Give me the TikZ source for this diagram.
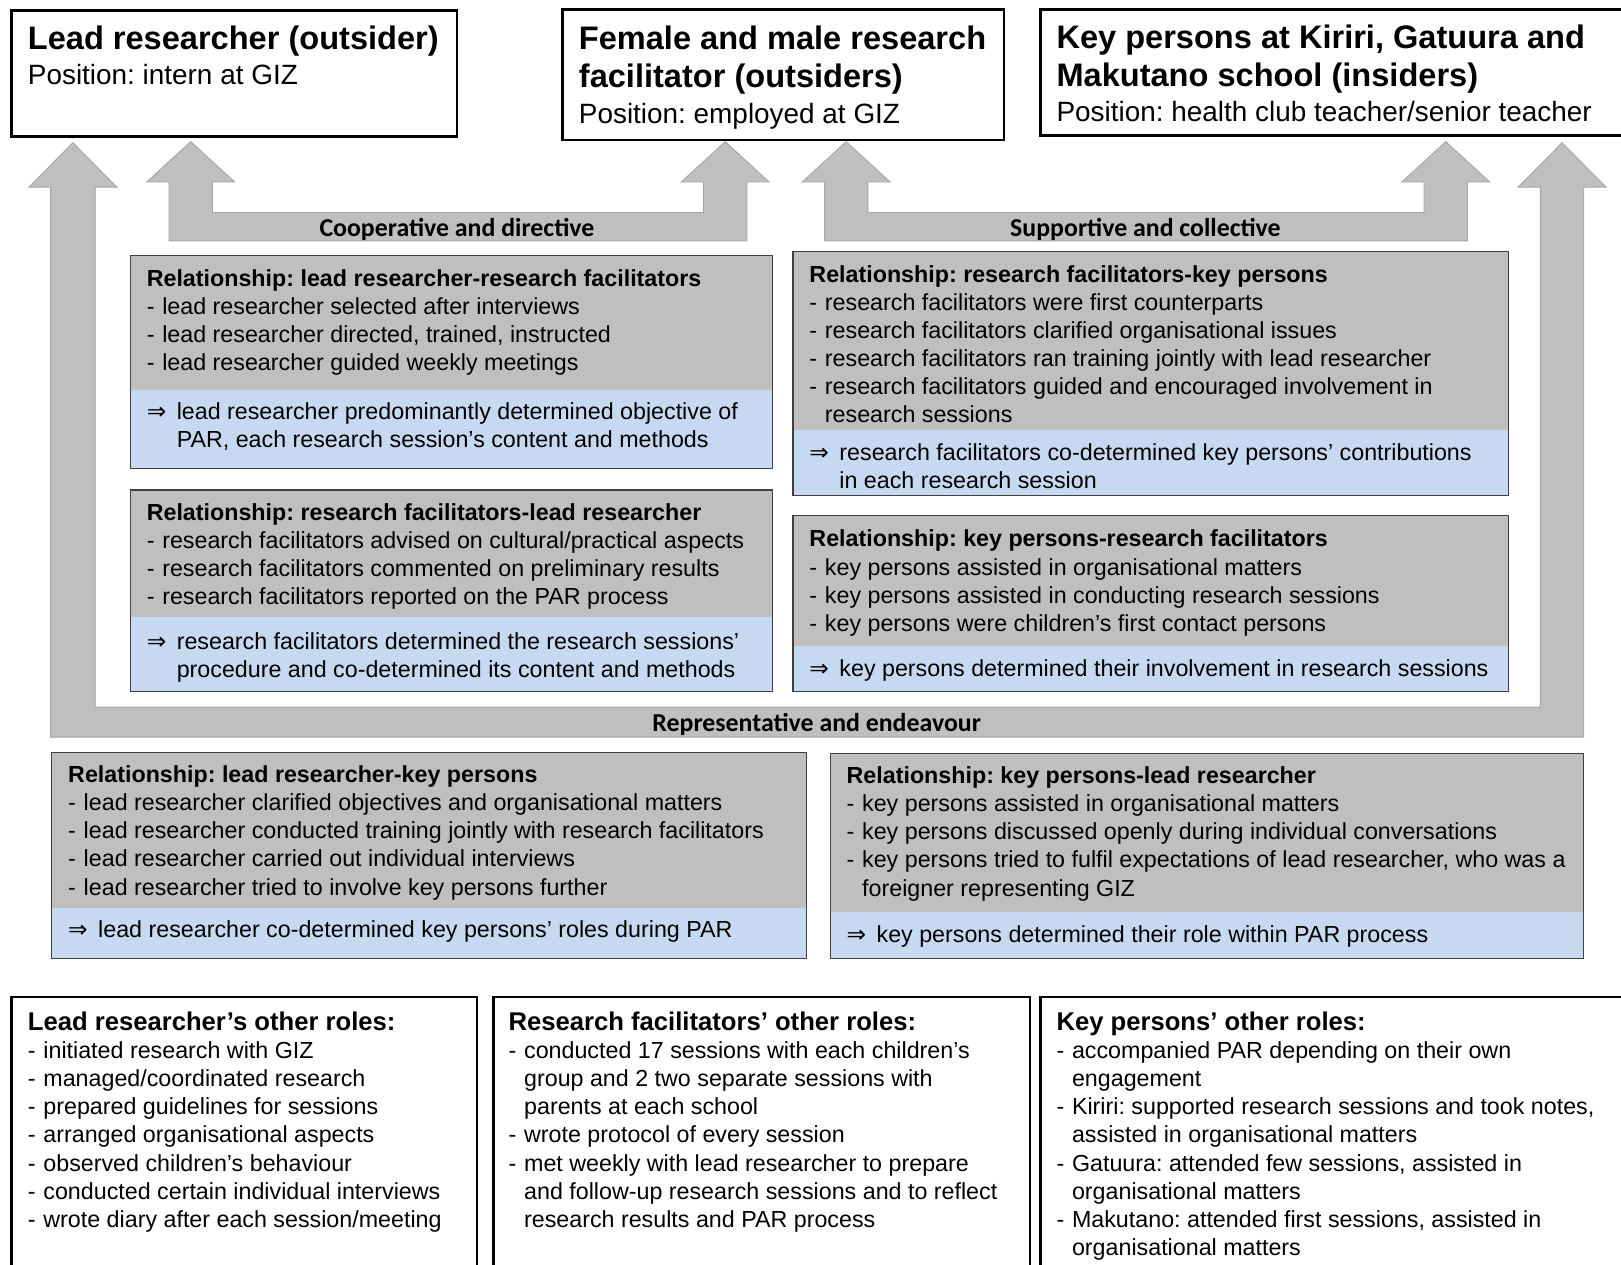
\documentclass[tikz,border=0pt]{standalone}
\usepackage{fontspec}
\setmainfont{Liberation Sans}
\newfontfamily\bandfont{Carlito}
\newfontfamily\symbfont{DejaVu Sans}

\definecolor{bandgray}{HTML}{BFBFBF}
\definecolor{bandedge}{HTML}{A5A5A5}
\definecolor{relgray}{HTML}{BFBFBF}
\definecolor{relblue}{HTML}{C6D9F1}
\definecolor{reledge}{HTML}{404040}

% font sizes (1 unit = 1pt)
\newcommand\titlesize{\fontsize{31.5}{37}\selectfont\bfseries}
\newcommand\possize{\fontsize{27}{34}\selectfont}
\newcommand\bodysize{\fontsize{22.5}{27.2}\selectfont}
\newcommand\headsize{\fontsize{24.8}{29}\selectfont\bfseries}

% list helpers
\newcommand\itm{\makebox[15pt][l]{-}}
\newcommand\cont{\hspace*{15pt}}
\newcommand\res{\makebox[29pt][l]{{\symbfont ⇒}}}
\newcommand\rescont{\hspace*{29pt}}
\newcommand\linesblock[1]{\begin{tabular}[t]{@{}l@{}}#1\end{tabular}}

% relationship box: grey upper part, blue result part
\newcommand\drawrelbox[5]{%
  \fill[relgray] (#1,#2) rectangle (#3,#4);
  \fill[relblue] (#1,#4) rectangle (#3,#5);
  \draw[reledge, line width=1.2pt] (#1,#2) rectangle (#3,#5);}

\frenchspacing

\begin{document}
\frenchspacing
\begin{tikzpicture}[x=1pt,y=-1pt,
  txt/.style={anchor=base west, inner sep=0pt, outer sep=0pt},
  bandlabel/.style={anchor=base, inner sep=0pt, font=\bandfont\bfseries\fontsize{25}{30}\selectfont},
  actorbox/.style={draw=black, line width=2.5pt, fill=white, anchor=north west, inner sep=0pt},
  band/.style={fill=bandgray, draw=bandedge, line width=0.8pt, line join=miter}]

\clip (0,0) rectangle (1568,1223);
\fill[white] (0,0) rectangle (1568,1223);

% ---------- actor boxes ----------
\node[actorbox, minimum width=431pt, minimum height=122pt] (lead) at (10,9) {};
\node[actorbox, minimum width=427pt, minimum height=126pt] (facil) at (543,8) {};
\node[actorbox, minimum width=580pt, minimum height=122pt] (keyp) at (1005,8) {};

\node[txt] (leadT) at (27,48) {\titlesize\linesblock{Lead researcher (outsider)}};
\node[txt] (leadP) at (27,82) {\possize Position: intern at GIZ};

\node[txt] (facilT) at (560,48) {\titlesize\linesblock{Female and male research\\facilitator (outsiders)}};
\node[txt] (facilP) at (560,119) {\possize Position: employed at GIZ};

\node[txt] (keypT) at (1022,47) {\titlesize\linesblock{Key persons at Kiriri, Gatuura and\\Makutano school (insiders)}};
\node[txt] (keypP) at (1022,118) {\possize Position: health club teacher/senior teacher};

% ---------- block arrows ----------
% lead researcher <-> research facilitators
\path[band] (184.5,137) -- (227,176) -- (205.5,176) -- (205.5,205.5) -- (680.5,205.5)
  -- (680.5,176) -- (659,176) -- (701.5,137) -- (744,176) -- (722.5,176) -- (722.5,233)
  -- (163.5,233) -- (163.5,176) -- (142,176) -- cycle;
% research facilitators <-> key persons
\path[band] (818.5,137) -- (861,176) -- (839.5,176) -- (839.5,205.5) -- (1377.5,205.5)
  -- (1377.5,176) -- (1356,176) -- (1398.5,137) -- (1441,176) -- (1419.5,176) -- (1419.5,233)
  -- (797.5,233) -- (797.5,176) -- (776,176) -- cycle;
% lead researcher <-> key persons
\path[band] (70.5,138) -- (113,181) -- (92,181) -- (92,684) -- (1490,684)
  -- (1490,181) -- (1468.5,181) -- (1511,138) -- (1553.5,181) -- (1532,181) -- (1532,713)
  -- (49,713) -- (49,181) -- (28,181) -- cycle;

\node[bandlabel] (coop) at (442,228.5) {Cooperative and directive};
\node[bandlabel] (supp) at (1108,228.5) {Supportive and collective};
\node[bandlabel] (repr) at (790,707.5) {Representative and endeavour};

% ---------- relationship boxes ----------
\drawrelbox{126}{247}{747}{377}{453}
\node[txt] (r1a) at (142,277) {\bodysize\linesblock{%
  \textbf{Relationship: lead researcher-research facilitators}\\
  \itm lead researcher selected after interviews\\
  \itm lead researcher directed, trained, instructed\\
  \itm lead researcher guided weekly meetings}};
\node[txt] (r1b) at (142,406) {\bodysize\linesblock{%
  \res lead researcher predominantly determined objective of\\
  \rescont PAR, each research session’s content and methods}};

\drawrelbox{126}{474}{747}{597}{669}
\node[txt] (r2a) at (142,503) {\bodysize\linesblock{%
  \textbf{Relationship: research facilitators-lead researcher}\\
  \itm research facilitators advised on cultural/practical aspects\\
  \itm research facilitators commented on preliminary results\\
  \itm research facilitators reported on the PAR process}};
\node[txt] (r2b) at (142,628) {\bodysize\linesblock{%
  \res research facilitators determined the research sessions’\\
  \rescont procedure and co-determined its content and methods}};

\drawrelbox{767}{243}{1459}{416}{479}
\node[txt] (r3a) at (783,273) {\bodysize\linesblock{%
  \textbf{Relationship: research facilitators-key persons}\\
  \itm research facilitators were first counterparts\\
  \itm research facilitators clarified organisational issues\\
  \itm research facilitators ran training jointly with lead researcher\\
  \itm research facilitators guided and encouraged involvement in\\
  \cont research sessions}};
\node[txt] (r3b) at (783,445) {\bodysize\linesblock{%
  \res research facilitators co-determined key persons’ contributions\\
  \rescont in each research session}};

\drawrelbox{767}{499}{1459}{625}{669}
\node[txt] (r4a) at (783,529) {\bodysize\linesblock{%
  \textbf{Relationship: key persons-research facilitators}\\
  \itm key persons assisted in organisational matters\\
  \itm key persons assisted in conducting research sessions\\
  \itm key persons were children’s first contact persons}};
\node[txt] (r4b) at (783,654) {\bodysize\linesblock{%
  \res key persons determined their involvement in research sessions}};

\drawrelbox{50}{728}{780}{878}{927}
\node[txt] (r5a) at (66,757) {\bodysize\linesblock{%
  \textbf{Relationship: lead researcher-key persons}\\
  \itm lead researcher clarified objectives and organisational matters\\
  \itm lead researcher conducted training jointly with research facilitators\\
  \itm lead researcher carried out individual interviews\\
  \itm lead researcher tried to involve key persons further}};
\node[txt] (r5b) at (66,907) {\bodysize\linesblock{%
  \res lead researcher co-determined key persons’ roles during PAR}};

\drawrelbox{803}{729}{1532}{882}{927}
\node[txt] (r6a) at (819,758) {\bodysize\linesblock{%
  \textbf{Relationship: key persons-lead researcher}\\
  \itm key persons assisted in organisational matters\\
  \itm key persons discussed openly during individual conversations\\
  \itm key persons tried to fulfil expectations of lead researcher, who was a\\
  \cont foreigner representing GIZ}};
\node[txt] (r6b) at (819,912) {\bodysize\linesblock{%
  \res key persons determined their role within PAR process}};

% ---------- other roles ----------
\node[actorbox, minimum width=450pt, minimum height=300pt] (leadroles) at (10,963) {};
\node[actorbox, minimum width=519pt, minimum height=300pt] (facilroles) at (476,963) {};
\node[actorbox, minimum width=580pt, minimum height=300pt] (keyproles) at (1005,963) {};

\node[txt] (lrH) at (27,996.5) {\headsize Lead researcher’s other roles:};
\node[txt] (lrL) at (27,1024) {\bodysize\linesblock{%
  \itm initiated research with GIZ\\
  \itm managed/coordinated research\\
  \itm prepared guidelines for sessions\\
  \itm arranged organisational aspects\\
  \itm observed children’s behaviour\\
  \itm conducted certain individual interviews\\
  \itm wrote diary after each session/meeting}};

\node[txt] (rfH) at (492,996.5) {\headsize Research facilitators’ other roles:};
\node[txt] (rfL) at (492,1024) {\bodysize\linesblock{%
  \itm conducted 17 sessions with each children’s\\
  \cont group and 2 two separate sessions with\\
  \cont parents at each school\\
  \itm wrote protocol of every session\\
  \itm met weekly with lead researcher to prepare\\
  \cont and follow-up research sessions and to reflect\\
  \cont research results and PAR process}};

\node[txt] (kpH) at (1022,996.5) {\headsize Key persons’ other roles:};
\node[txt] (kpL) at (1022,1024) {\bodysize\linesblock{%
  \itm accompanied PAR depending on their own\\
  \cont engagement\\
  \itm Kiriri: supported research sessions and took notes,\\
  \cont assisted in organisational matters\\
  \itm Gatuura: attended few sessions, assisted in\\
  \cont organisational matters\\
  \itm Makutano: attended first sessions, assisted in\\
  \cont organisational matters}};

\end{tikzpicture}
\end{document}
